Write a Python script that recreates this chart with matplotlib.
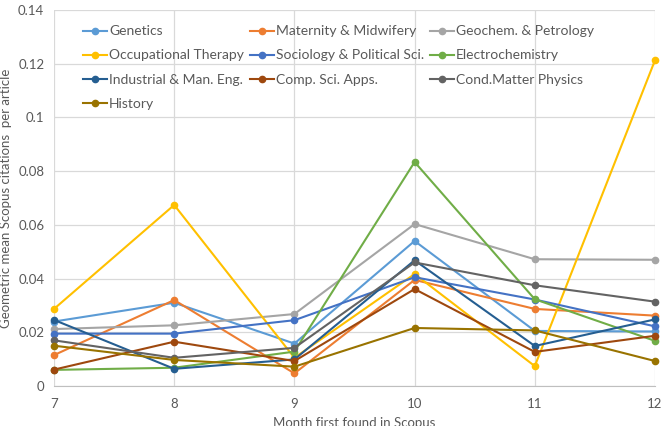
import matplotlib
matplotlib.use("Agg")
import matplotlib.pyplot as plt
from matplotlib.ticker import FuncFormatter

plt.rcParams['font.family'] = ['Lato', 'DejaVu Sans']

# months first found in Scopus
months = [7, 8, 9, 10, 11, 12]

# geometric mean citations per article, per subject
genetics = [0.0240, 0.0310, 0.0158, 0.0540, 0.0205, 0.0203]
maternity = [0.0115, 0.0320, 0.0047, 0.0395, 0.0287, 0.0262]
geochem = [0.0212, 0.0226, 0.0268, 0.0603, 0.0472, 0.0470]
occupational = [0.0287, 0.0674, 0.0105, 0.0417, 0.0074, 0.1213]
sociology = [0.0195, 0.0195, 0.0245, 0.0405, 0.0322, 0.0222]
electrochem = [0.0060, 0.0068, 0.0128, 0.0834, 0.0323, 0.0168]
industrial = [0.0246, 0.0064, 0.0099, 0.0468, 0.0149, 0.0248]
compsci = [0.0061, 0.0165, 0.0093, 0.0361, 0.0127, 0.0187]
condmatter = [0.0170, 0.0105, 0.0142, 0.0460, 0.0375, 0.0314]
history = [0.0150, 0.0097, 0.0072, 0.0216, 0.0207, 0.0093]

labels = ["Genetics", "Maternity & Midwifery", "Geochem. & Petrology",
          "Occupational Therapy", "Sociology & Political Sci.", "Electrochemistry",
          "Industrial & Man. Eng.", "Comp. Sci. Apps.", "Cond.Matter Physics",
          "History"]
series = [genetics, maternity, geochem, occupational, sociology, electrochem,
          industrial, compsci, condmatter, history]
colors = ["#5B9BD5", "#ED7D31", "#A5A5A5", "#FFC000", "#4472C4", "#70AD47",
          "#255E91", "#9E480E", "#636363", "#997300"]

fig = plt.figure(figsize=(6.61, 4.26), dpi=100)
ax = fig.add_axes([54 / 661, 1 - 386 / 426, (655 - 54) / 661, (386 - 10) / 426])

lines = []
for vals, lab, col in zip(series, labels, colors):
    l, = ax.plot(months, vals, color=col, lw=1.5, marker='o', ms=4.5, label=lab,
                 clip_on=False, zorder=3)
    lines.append(l)

ax.set_xlim(7, 12)
ax.set_ylim(0, 0.14)
ax.set_xticks(months)
ax.set_yticks([0, 0.02, 0.04, 0.06, 0.08, 0.1, 0.12, 0.14])
ax.yaxis.set_major_formatter(FuncFormatter(lambda v, p: '%g' % round(v, 2)))
ax.grid(True, color='#D9D9D9', lw=0.9, zorder=0)
for s in ['top', 'right', 'left']:
    ax.spines[s].set_visible(False)
ax.spines['bottom'].set_color('#BFBFBF')
ax.tick_params(axis='both', length=0, labelsize=9.5, colors='#595959')
ax.tick_params(axis='y', pad=7)
ax.tick_params(axis='x', pad=9)

ax.set_ylabel("Geometric mean Scopus citations  per article", fontsize=9.5,
              color='#595959', labelpad=4)
ax.set_xlabel("Month first found in Scopus", fontsize=9.5, color='#595959',
              labelpad=5)

# legend reads row by row, matplotlib fills column by column
order = [0, 3, 6, 9, 1, 4, 7, 2, 5, 8]
leg = ax.legend([lines[i] for i in order], [labels[i] for i in order],
                loc='upper left', ncol=3, frameon=False, fontsize=10,
                bbox_to_anchor=(0.048, 0.959), handlelength=1.75,
                handletextpad=0.15, columnspacing=0.4, labelspacing=0.87,
                borderaxespad=0, borderpad=0)
for t in leg.get_texts():
    t.set_color('#595959')

fig.savefig("out.png", dpi=100)
